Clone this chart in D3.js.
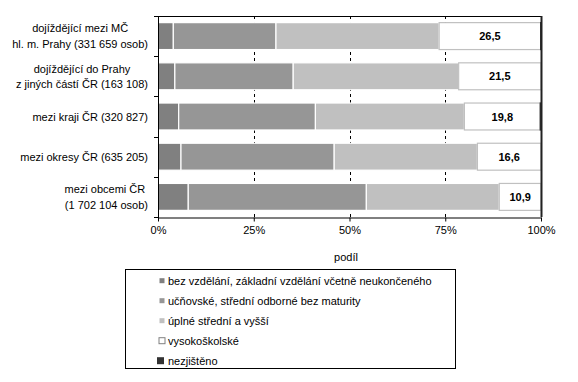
<!DOCTYPE html>
<html><head><meta charset="utf-8">
<script src="https://cdn.jsdelivr.net/npm/d3@7"></script>
<style>body{margin:0;background:#fff;} svg{display:block;font-family:Arial,"Liberation Sans",sans-serif;}</style>
</head><body>
<script>
const categories = [
  ["dojíždějící mezi MČ","hl. m. Prahy (331 659 osob)"],
  ["dojíždějící do Prahy","z jiných částí ČR (163 108)"],
  ["mezi kraji ČR (320 827)"],
  ["mezi okresy ČR (635 205)"],
  ["mezi obcemi ČR ","(1 702 104 osob)"]
];
const seriesNames = ["bez vzdělání, základní vzdělání včetně neukončeného","učňovské, střední odborné bez maturity","úplné střední a vyšší","vysokoškolské","nezjištěno"];
const zakladni  = [4.0, 4.4, 5.4, 6.0, 7.9];
const ucnovske  = [26.8, 30.9, 35.7, 40.0, 46.5];
const uplne     = [42.6, 43.2, 38.9, 37.4, 34.7];
const vysoko    = [26.5, 21.5, 19.8, 16.6, 10.9];
const nezjisteno= [0.1, 0.0, 0.2, 0.0, 0.0];
const xTicks = [0, 25, 50, 75, 100];
const xTickLabels = ["0%","25%","50%","75%","100%"];
const colors = ["#808080","#969696","#c0c0c0","#ffffff","#333333"];

const W=578,H=382;
const svg=d3.select("body").append("svg").attr("width",W).attr("height",H);
const x=d3.scaleLinear().domain([0,100]).range([158,541]);
const y=d3.scaleBand().domain(d3.range(categories.length)).range([16,217]).paddingInner(0.33).paddingOuter(0.165);
const series=[zakladni,ucnovske,uplne,vysoko,nezjisteno];

// gridlines
svg.append("g").selectAll("line").data([25,50,75]).join("line")
  .attr("x1",d=>Math.round(x(d))+0.5).attr("x2",d=>Math.round(x(d))+0.5)
  .attr("y1",16).attr("y2",217).attr("stroke","#000").attr("stroke-dasharray","3,3");

// bars
const stacked=categories.map((c,i)=>{let acc=0;return series.map((s,k)=>{const r={k,i,x0:acc,x1:acc+s[i]};acc+=s[i];return r;});});
const g=svg.append("g");
stacked.forEach(row=>{
  g.selectAll(null).data(row.filter(r=>r.x1>r.x0)).join("rect")
   .attr("x",r=>x(r.x0)).attr("width",r=>x(r.x1)-x(r.x0))
   .attr("y",r=>y(r.i)).attr("height",y.bandwidth())
   .attr("fill",r=>colors[r.k])
   .attr("stroke",r=>r.k===3?"#c0c0c0":(r.k===4?"#333":"#fff")).attr("stroke-width",1.2);
});
// value labels
svg.append("g").selectAll("text").data(vysoko).join("text")
  .attr("x",(d,i)=>x((zakladni[i]+ucnovske[i]+uplne[i])+d/2)).attr("y",(d,i)=>y(i)+y.bandwidth()/2+4)
  .attr("text-anchor","middle").attr("font-size","11px").attr("font-weight","bold")
  .text(d=>d.toFixed(1).replace(".",","));

// frame top/right
svg.append("line").attr("x1",158).attr("x2",541.5).attr("y1",16.5).attr("y2",16.5).attr("stroke","#000");
svg.append("line").attr("x1",541.5).attr("x2",541.5).attr("y1",16).attr("y2",217).attr("stroke","#222").attr("stroke-width",2);

// x axis
const xa=svg.append("g").attr("transform","translate(0,217.5)")
  .call(d3.axisBottom(x).tickValues(xTicks).tickFormat((d,i)=>xTickLabels[i]).tickSizeInner(4).tickSizeOuter(0));
xa.select(".domain").attr("stroke","#000");
xa.selectAll("text").attr("font-size","11px").attr("font-family","Arial,'Liberation Sans',sans-serif").attr("fill","#000").attr("dy","0.9em");
// y axis
svg.append("line").attr("x1",158.5).attr("x2",158.5).attr("y1",16).attr("y2",218).attr("stroke","#000");
const bounds=d3.range(categories.length+1).map(i=>16+i*y.step());
svg.append("g").selectAll("line").data(bounds).join("line")
  .attr("x1",154).attr("x2",158).attr("y1",d=>Math.round(d)+0.5).attr("y2",d=>Math.round(d)+0.5).attr("stroke","#000");

// category labels
const lab=svg.append("g").attr("font-size","11px");
categories.forEach((lines,i)=>{
  const cy=y(i)+y.bandwidth()/2;
  const lh=15.5;
  const t=lab.append("text").attr("text-anchor","middle");
  const tmp=lines.map(l=>{const tt=lab.append("text").text(l);const w=tt.node().getComputedTextLength();tt.remove();return w;});
  const wmax=d3.max(tmp);
  const cx=148-wmax/2;
  lines.forEach((l,j)=>{
    t.append("tspan").attr("x",cx).attr("y",cy+4+(j-(lines.length-1)/2)*lh).text(l);
  });
});

// axis title
svg.append("text").attr("x",346).attr("y",261).attr("text-anchor","middle").attr("font-size","11px").text("podíl");

// legend
svg.append("rect").attr("x",125.5).attr("y",269.5).attr("width",330).attr("height",99).attr("fill","#fff").attr("stroke","#000");
const leg=svg.append("g").attr("font-size","11px");
seriesNames.forEach((n,k)=>{
  const cy=280.7+k*20;
  const s=k===4?7:(k===3?6:5);
  leg.append("rect").attr("x",k===4?157:159.5-(k===3?0.5:0)).attr("y",cy-s/2).attr("width",s).attr("height",s)
    .attr("fill",colors[k]).attr("stroke",k===3?"#808080":"none").attr("stroke-width",k===3?1:0);
  leg.append("text").attr("x",168).attr("y",cy+4).text(n);
});
</script>
</body></html>
